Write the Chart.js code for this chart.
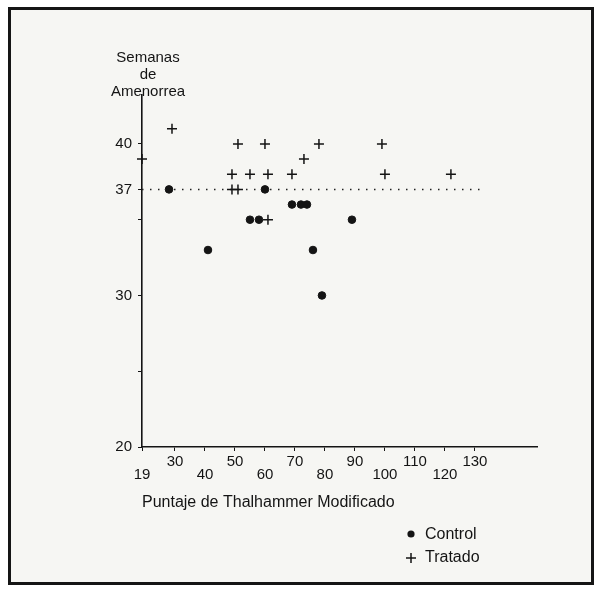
<!DOCTYPE html>
<html>
<head>
<meta charset="utf-8">
<script src="https://cdn.jsdelivr.net/npm/chart.js@4.4.0/dist/chart.umd.min.js"></script>
<style>
  html, body { margin: 0; padding: 0; background: #fff; }
  #marco { position: absolute; left: 8px; top: 7px; width: 586px; height: 578px; box-sizing: border-box; border: 3px solid #151515; background: #f6f6f3; }
  #grafico { position: absolute; left: 0; top: 0; }
</style>
</head>
<body>
<div id="marco"></div>
<canvas id="grafico" width="602" height="590"></canvas>
<script>
// Datos
let controlX = [28, 41, 55, 58, 60, 69, 72, 74, 76, 79, 89];
let controlY = [37, 33, 35, 35, 37, 36, 36, 36, 33, 30, 35];
let tratadoX = [19, 29, 51, 60, 78, 99, 73, 49, 55, 61, 69, 100, 122, 49, 51, 61];
let tratadoY = [39, 41, 40, 40, 40, 40, 39, 38, 38, 38, 38, 38, 38, 37, 37, 35];
let ticksX = [19, 30, 40, 50, 60, 70, 80, 90, 100, 110, 120, 130];
let ticksY = [20, 25, 30, 35, 37, 40];
let etiquetasY = [20, 30, 37, 40];
let semanaRef = 37;          // linea punteada
let rangoRef = [19, 133];

let fuente = "'Liberation Sans', Arial, sans-serif";
let negro = '#141414';

function puntos(xs, ys) {
    return xs.map((x, i) => ({ x: x, y: ys[i] }));
}

// titulo del eje Y y leyenda dibujados a mano
let extras = {
    id: 'extras',
    afterDraw(chart) {
        let ctx = chart.ctx;
        let area = chart.chartArea;
        ctx.save();
        ctx.fillStyle = negro;
        ctx.strokeStyle = negro;
        ctx.font = '15px ' + fuente;
        ctx.textAlign = 'center';
        ctx.textBaseline = 'middle';
        let cx = area.left + 6;
        ['Semanas', 'de', 'Amenorrea'].forEach((t, i) => ctx.fillText(t, cx, 58 + i * 17));

        // leyenda
        ctx.font = '16px ' + fuente;
        ctx.textAlign = 'left';
        ctx.beginPath();
        ctx.arc(411, 534, 3.6, 0, Math.PI * 2);
        ctx.fill();
        ctx.fillText('Control', 425, 535);
        ctx.lineWidth = 1.5;
        ctx.beginPath();
        ctx.moveTo(406, 558); ctx.lineTo(416, 558);
        ctx.moveTo(411, 553); ctx.lineTo(411, 563);
        ctx.stroke();
        ctx.fillText('Tratado', 425, 558);
        ctx.restore();
    }
};

let chart = new Chart('grafico', {
    data: {
        datasets: [
            {
                type: 'line',
                label: 'ref',
                data: [{ x: rangoRef[0], y: semanaRef }, { x: rangoRef[1], y: semanaRef }],
                borderColor: '#222',
                borderWidth: 1.5,
                borderDash: [1.5, 6.5],
                pointRadius: 0,
                order: 3
            },
            {
                type: 'scatter',
                label: 'Control',
                data: puntos(controlX, controlY),
                pointStyle: 'circle',
                pointRadius: 3.8,
                backgroundColor: negro,
                borderColor: negro,
                order: 1
            },
            {
                type: 'scatter',
                label: 'Tratado',
                data: puntos(tratadoX, tratadoY),
                pointStyle: 'cross',
                pointRadius: 5,
                borderWidth: 1.5,
                borderColor: negro,
                order: 1
            }
        ]
    },
    options: {
        responsive: false,
        animation: false,
        clip: false,
        layout: { padding: { left: 100, right: 65, top: 95, bottom: 73 } },
        plugins: { legend: { display: false }, tooltip: { enabled: false } },
        scales: {
            x: {
                type: 'linear',
                min: 19,
                max: 150.7,
                afterFit: s => { s.height = 70; },
                afterBuildTicks: s => { s.ticks = ticksX.map(v => ({ value: v })); },
                border: { display: true, color: negro, width: 1.6 },
                grid: { drawOnChartArea: false, drawTicks: true, tickLength: 4, color: negro },
                ticks: {
                    autoSkip: false,
                    maxRotation: 0,
                    padding: 4,
                    color: negro,
                    font: { family: fuente, size: 15, lineHeight: 0.9 },
                    callback: (v, i) => i % 2 ? [String(v), ''] : ['', String(v)]
                },
                title: {
                    display: true,
                    align: 'start',
                    text: 'Puntaje de Thalhammer Modificado',
                    color: negro,
                    font: { family: fuente, size: 16, lineHeight: 1.2 },
                    padding: { top: 0, bottom: 5 }
                }
            },
            y: {
                type: 'linear',
                min: 20,
                max: 43.23,
                afterFit: s => { s.width = 42; },
                afterBuildTicks: s => { s.ticks = ticksY.map(v => ({ value: v })); },
                border: { display: true, color: negro, width: 1.6 },
                grid: { drawOnChartArea: false, drawTicks: true, tickLength: 4, color: negro },
                ticks: {
                    padding: 6,
                    color: negro,
                    font: { family: fuente, size: 15 },
                    callback: v => etiquetasY.includes(v) ? String(v) : ''
                }
            }
        }
    },
    plugins: [extras]
});
</script>
</body>
</html>
